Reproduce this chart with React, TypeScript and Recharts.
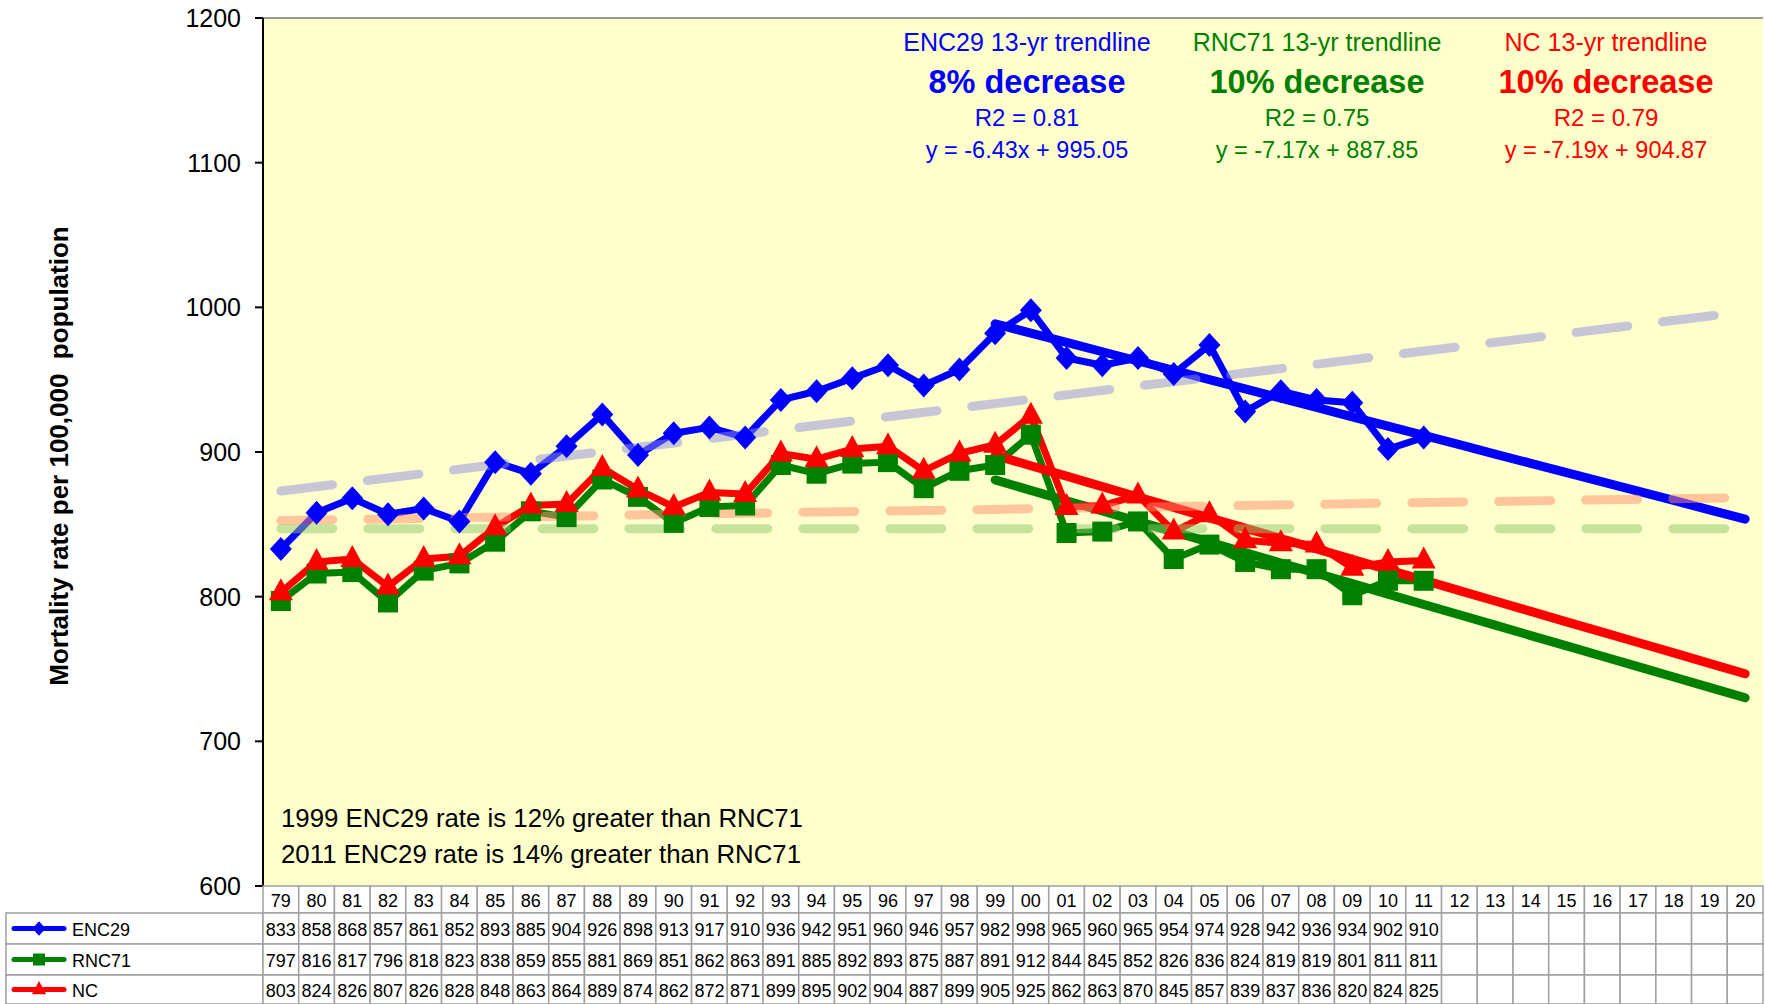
import React from 'react';
import { ComposedChart, Line, XAxis, YAxis, CartesianGrid, ReferenceLine } from 'recharts';

const years = ['79','80','81','82','83','84','85','86','87','88','89','90','91','92','93','94','95','96','97','98','99','00','01','02','03','04','05','06','07','08','09','10','11','12','13','14','15','16','17','18','19','20'];
const enc29 = [833,858,868,857,861,852,893,885,904,926,898,913,917,910,936,942,951,960,946,957,982,998,965,960,965,954,974,928,942,936,934,902,910];
const rnc71 = [797,816,817,796,818,823,838,859,855,881,869,851,862,863,891,885,892,893,875,887,891,912,844,845,852,826,836,824,819,819,801,811,811];
const ncRate = [803,824,826,807,826,828,848,863,864,889,874,862,872,871,899,895,902,904,887,899,905,925,862,863,870,845,857,839,837,836,820,824,825];
const trendStartYear = '99';
const enc29Trend = [988.6,982.2,975.8,969.3,962.9,956.5,950.1,943.6,937.2,930.8,924.3,917.9,911.5,905.1,898.6,892.2,885.8,879.3,872.9,866.5,860.0,853.6];
const rnc71Trend = [880.7,873.5,866.3,859.2,852.0,844.8,837.7,830.5,823.3,816.2,809.0,801.8,794.6,787.5,780.3,773.1,766.0,758.8,751.6,744.5,737.3,730.1];
const ncTrend = [897.7,890.5,883.3,876.1,868.9,861.7,854.5,847.4,840.2,833.0,825.8,818.6,811.4,804.2,797.0,789.8,782.6,775.5,768.3,761.1,753.9,746.7];
const enc29Long = [873, 997];
const ncLong = [852.6, 868.5];
const rnc71Long = [847, 847];
const yTicks = [600, 700, 800, 900, 1000, 1100, 1200];

const FONT = 'Liberation Sans, Arial, sans-serif';
const BLUE = '#0000ff';
const GREEN = '#008000';
const RED = '#ff0000';
const GRID = '#a0a0a0';

const trendStart = years.indexOf(trendStartYear);
const last = years.length - 1;
const data = years.map((year, i) => ({
  year,
  enc: enc29[i] ?? null,
  rnc: rnc71[i] ?? null,
  nc: ncRate[i] ?? null,
  encT: i >= trendStart ? enc29Trend[i - trendStart] : null,
  rncT: i >= trendStart ? rnc71Trend[i - trendStart] : null,
  ncT: i >= trendStart ? ncTrend[i - trendStart] : null,
  encL: i === 0 ? enc29Long[0] : i === last ? enc29Long[1] : null,
  ncL: i === 0 ? ncLong[0] : i === last ? ncLong[1] : null,
  rncL: i === 0 ? rnc71Long[0] : i === last ? rnc71Long[1] : null,
}));

type Marker = 'diamond' | 'square' | 'triangle';

const markerShape = (kind: Marker, cx: number, cy: number, s: number, color: string, key?: any) => {
  if (kind === 'diamond') {
    return <polygon key={key} points={`${cx},${cy - 12 * s} ${cx + 11 * s},${cy} ${cx},${cy + 12 * s} ${cx - 11 * s},${cy}`} fill={color} />;
  }
  if (kind === 'square') {
    return <rect key={key} x={cx - 10 * s} y={cy - 10 * s} width={20 * s} height={20 * s} fill={color} />;
  }
  return <polygon key={key} points={`${cx},${cy - 14 * s} ${cx + 12 * s},${cy + 8 * s} ${cx - 12 * s},${cy + 8 * s}`} fill={color} />;
};

const makeDot = (kind: Marker, color: string) => (props: any) => {
  const { cx, cy, index } = props;
  if (cx == null || cy == null || Number.isNaN(cy)) return <g key={`d-${index}`} />;
  return markerShape(kind, cx, cy, 1, color, `d-${index}`);
};

const BAND_HALF = 1500 / 42 / 2;

const headerTick = (rowH: number) => (props: any) => {
  const { x, y, payload } = props;
  const half = payload?.offset || BAND_HALF;
  return (
    <g>
      <rect x={x - half} y={y} width={half * 2} height={rowH} fill="#fff" stroke={GRID} strokeWidth={1.5} />
      <text x={x} y={y + rowH / 2 + 1} textAnchor="middle" dominantBaseline="central" fontSize={18} fontFamily={FONT} fill="#000">
        {payload.value}
      </text>
    </g>
  );
};

const rowTick = (values: number[], rowH: number, label: string, color: string, kind: Marker) => (props: any) => {
  const { x, y, payload, index } = props;
  const half = payload?.offset || BAND_HALF;
  const left = x - half;
  const v = values[index];
  const cy = y + rowH / 2;
  return (
    <g>
      {index === 0 && (
        <g>
          <rect x={6} y={y} width={left - 6} height={rowH} fill="#fff" stroke={GRID} strokeWidth={1.5} />
          <line x1={14} x2={64} y1={cy} y2={cy} stroke={color} strokeWidth={5} strokeLinecap="round" />
          {markerShape(kind, 39, cy, 0.6, color)}
          <text x={72} y={cy + 1} dominantBaseline="central" fontSize={18} fontFamily={FONT} fill="#000">{label}</text>
        </g>
      )}
      <rect x={left} y={y} width={half * 2} height={rowH} fill="#fff" stroke={GRID} strokeWidth={1.5} />
      {v != null && (
        <text x={x} y={cy + 1} textAnchor="middle" dominantBaseline="central" fontSize={18} fontFamily={FONT} fill="#000">
          {v}
        </text>
      )}
    </g>
  );
};

const yLabel = (props: any) => {
  const vb = props.viewBox || { x: 0, y: 18, width: 263, height: 869 };
  const cy = vb.y + vb.height / 2 + 4;
  const cx = 59;
  return (
    <text x={cx} y={cy} transform={`rotate(-90, ${cx}, ${cy})`} textAnchor="middle" dominantBaseline="central"
      fontSize={26} fontWeight="bold" fontFamily={FONT} fill="#000" style={{ whiteSpace: 'pre' }}>
      Mortality rate per 100,000  population
    </text>
  );
};

const annotations = [
  { x: 1027, title: 'ENC29 13-yr trendline', pct: '8% decrease', r2: 'R2 = 0.81', eq: 'y = -6.43x + 995.05', color: BLUE },
  { x: 1317, title: 'RNC71 13-yr trendline', pct: '10% decrease', r2: 'R2 = 0.75', eq: 'y = -7.17x + 887.85', color: GREEN },
  { x: 1606, title: 'NC 13-yr trendline', pct: '10% decrease', r2: 'R2 = 0.79', eq: 'y = -7.19x + 904.87', color: RED },
];

const notes = ['1999 ENC29 rate is 12% greater than RNC71', '2011 ENC29 rate is 14% greater than RNC71'];

export default function App() {
  const W = 1765;
  const H = 1004;
  return (
    <div style={{ position: 'absolute', left: 0, top: 0, width: W, height: H, background: '#fff' }}>
      <ComposedChart width={W} height={H} data={data} margin={{ top: 18, right: 2, left: 0, bottom: 0 }}>
        <CartesianGrid fill="#ffffcc" stroke="none" horizontal={false} vertical={false} />
        <XAxis dataKey="year" xAxisId={0} scale="band" height={27} interval={0} tickSize={0} tickMargin={0} axisLine={false} tick={headerTick(27)} />
        <XAxis dataKey="year" xAxisId="r1" scale="band" height={31} interval={0} tickSize={0} tickMargin={0} axisLine={false} tick={rowTick(enc29, 31, 'ENC29', BLUE, 'diamond')} />
        <XAxis dataKey="year" xAxisId="r2" scale="band" height={31} interval={0} tickSize={0} tickMargin={0} axisLine={false} tick={rowTick(rnc71, 31, 'RNC71', GREEN, 'square')} />
        <XAxis dataKey="year" xAxisId="r3" scale="band" height={29} interval={0} tickSize={0} tickMargin={0} axisLine={false} tick={rowTick(ncRate, 29, 'NC', RED, 'triangle')} />
        <YAxis yAxisId={0} width={263} type="number" domain={[600, 1200]} ticks={yTicks} interval={0}
          tick={{ fontSize: 25, fill: '#000', fontFamily: FONT }} tickSize={8} tickMargin={14}
          axisLine={{ stroke: '#000', strokeWidth: 2 }} tickLine={{ stroke: '#000', strokeWidth: 2 }}
          label={yLabel} />
        <YAxis yAxisId="r" orientation="right" width={0} type="number" domain={[600, 1200]} tick={false} tickLine={false}
          axisLine={{ stroke: '#999', strokeWidth: 2 }} />
        <ReferenceLine y={1200} stroke="#999" strokeWidth={2} />

        <Line xAxisId="r1" dataKey="enc" stroke="none" dot={false} isAnimationActive={false} legendType="none" />
        <Line xAxisId="r2" dataKey="rnc" stroke="none" dot={false} isAnimationActive={false} legendType="none" />
        <Line xAxisId="r3" dataKey="nc" stroke="none" dot={false} isAnimationActive={false} legendType="none" />

        <Line dataKey="enc" stroke={BLUE} strokeWidth={7} strokeLinejoin="round" dot={makeDot('diamond', BLUE)} activeDot={false} isAnimationActive={false} />
        <Line dataKey="encT" stroke={BLUE} strokeWidth={9} strokeLinecap="round" strokeLinejoin="round" dot={false} activeDot={false} isAnimationActive={false} />
        <Line dataKey="rnc" stroke={GREEN} strokeWidth={7} strokeLinejoin="round" dot={makeDot('square', GREEN)} activeDot={false} isAnimationActive={false} />
        <Line dataKey="rncT" stroke={GREEN} strokeWidth={9} strokeLinecap="round" strokeLinejoin="round" dot={false} activeDot={false} isAnimationActive={false} />
        <Line dataKey="nc" stroke={RED} strokeWidth={7} strokeLinejoin="round" dot={makeDot('triangle', RED)} activeDot={false} isAnimationActive={false} />
        <Line dataKey="ncT" stroke={RED} strokeWidth={9} strokeLinecap="round" strokeLinejoin="round" dot={false} activeDot={false} isAnimationActive={false} />

        <Line dataKey="encL" connectNulls stroke="#8d8de0" strokeOpacity={0.5} strokeWidth={9} strokeDasharray="52 35" strokeLinecap="round" dot={false} activeDot={false} isAnimationActive={false} />
        <Line dataKey="ncL" connectNulls stroke="#ff8d6c" strokeOpacity={0.5} strokeWidth={9} strokeDasharray="52 35" strokeLinecap="round" dot={false} activeDot={false} isAnimationActive={false} />
        <Line dataKey="rncL" connectNulls stroke="#8dc76c" strokeOpacity={0.5} strokeWidth={9} strokeDasharray="52 35" strokeLinecap="round" dot={false} activeDot={false} isAnimationActive={false} />
      </ComposedChart>
      <svg width={W} height={H} style={{ position: 'absolute', left: 0, top: 0, pointerEvents: 'none' }}>
        {annotations.map((a) => (
          <g key={a.title} fill={a.color} fontFamily={FONT} textAnchor="middle">
            <text x={a.x} y={42} dominantBaseline="central" fontSize={25}>{a.title}</text>
            <text x={a.x} y={82} dominantBaseline="central" fontSize={32.5} fontWeight="bold">{a.pct}</text>
            <text x={a.x} y={117} dominantBaseline="central" fontSize={24}>{a.r2}</text>
            <text x={a.x} y={150} dominantBaseline="central" fontSize={23.5}>{a.eq}</text>
          </g>
        ))}
        {notes.map((n, i) => (
          <text key={n} x={281} y={818 + i * 36} dominantBaseline="central" fontSize={25.8} fontFamily={FONT} fill="#000">{n}</text>
        ))}
      </svg>
    </div>
  );
}
